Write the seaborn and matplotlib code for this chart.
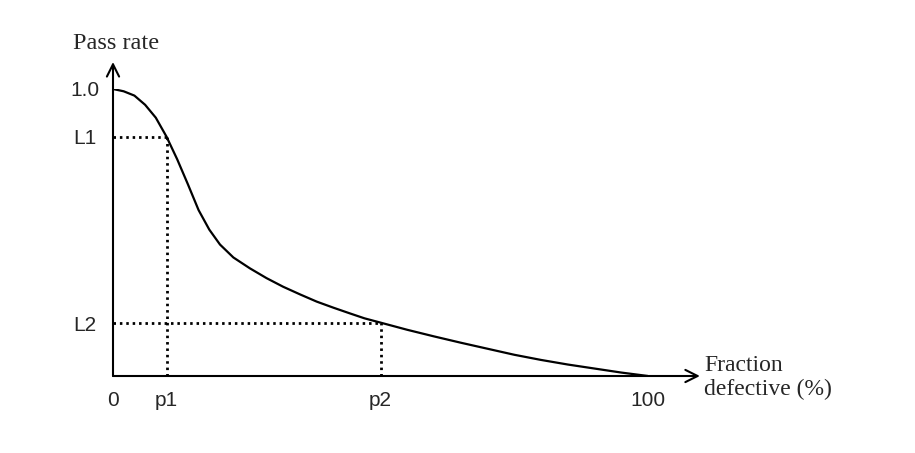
# OC curve: pass rate vs fraction defective
import matplotlib
matplotlib.use("Agg")
import pandas as pd
import matplotlib.pyplot as plt
import seaborn as sns

# curve values
defect = [0, 2, 4, 6, 8, 10, 12, 14, 16, 18, 20, 22.5, 25.6, 28.7, 31.8,
          35.0, 38.1, 41.2, 44.3, 47.0, 50, 55, 60, 65, 70, 75, 80, 85, 90,
          95, 100]
pass_rate = [1.0, 0.992, 0.977, 0.945, 0.900, 0.834, 0.755, 0.668, 0.578,
             0.510, 0.458, 0.413, 0.375, 0.341, 0.311, 0.284, 0.259, 0.238,
             0.218, 0.201, 0.186, 0.161, 0.138, 0.116, 0.095, 0.074, 0.056,
             0.040, 0.026, 0.012, 0.0]

p1, p2 = 10.0, 50.0
L1, L2 = 0.834, 0.184
x_ticks = [0, p1, p2, 100]
x_labels = ['0', 'p1', 'p2', '100']
y_ticks = [L2, L1, 1.0]
y_labels = ['L2', 'L1', '1.0']

data = pd.DataFrame({'Fraction defective': defect, 'Pass rate': pass_rate})

sns.set_style('white')
plt.rcParams['font.family'] = ['Liberation Sans', 'DejaVu Sans']

fig = plt.figure(figsize=(9.15, 4.53), dpi=100)
ax = fig.add_axes([113 / 915, 77 / 453, 535 / 915, 287 / 453])

sns.lineplot(x='Fraction defective', y='Pass rate', data=data, sort=False,
             color='black', linewidth=1.6, ax=ax)

# dotted guide lines
dots = dict(color='black', linewidth=2.0, linestyle=(0, (0.9, 1.4)))
ax.plot([0, p1], [L1, L1], **dots)
ax.plot([p1, p1], [0, L1], **dots)
ax.plot([0, p2], [L2, L2], **dots)
ax.plot([p2, p2], [0, L2], **dots)

ax.set_xlim(0, 100)
ax.set_ylim(0, 1)
for s in ax.spines.values():
    s.set_visible(False)

# axes with arrows
arrow = dict(arrowstyle='->', color='black', lw=1.5, mutation_scale=22,
             shrinkA=0, shrinkB=0)
ax.annotate('', xy=(109.7, 0), xytext=(0, 0), arrowprops=arrow, annotation_clip=False)
ax.annotate('', xy=(0, 1.094), xytext=(0, 0), arrowprops=arrow, annotation_clip=False)

ax.set_xticks(x_ticks)
ax.set_xticklabels(x_labels, fontsize=15)
ax.set_yticks(y_ticks)
ax.set_yticklabels(y_labels, fontsize=15, ha='center')
ax.tick_params(axis='x', length=0, pad=11)
ax.tick_params(axis='y', length=0, pad=20)
ax.set_xlabel('')
ax.set_ylabel('')

ax.text(-0.075, 1.16, 'Pass rate', transform=ax.transAxes, family='Liberation Serif',
        fontsize=17.5, ha='left', va='center')
ax.text(110.5, -0.005, 'Fraction\ndefective (%)', family='Liberation Serif',
        fontsize=17, ha='left', va='center', linespacing=1.2, clip_on=False)

fig.savefig('out.png', dpi=100, facecolor='white')
